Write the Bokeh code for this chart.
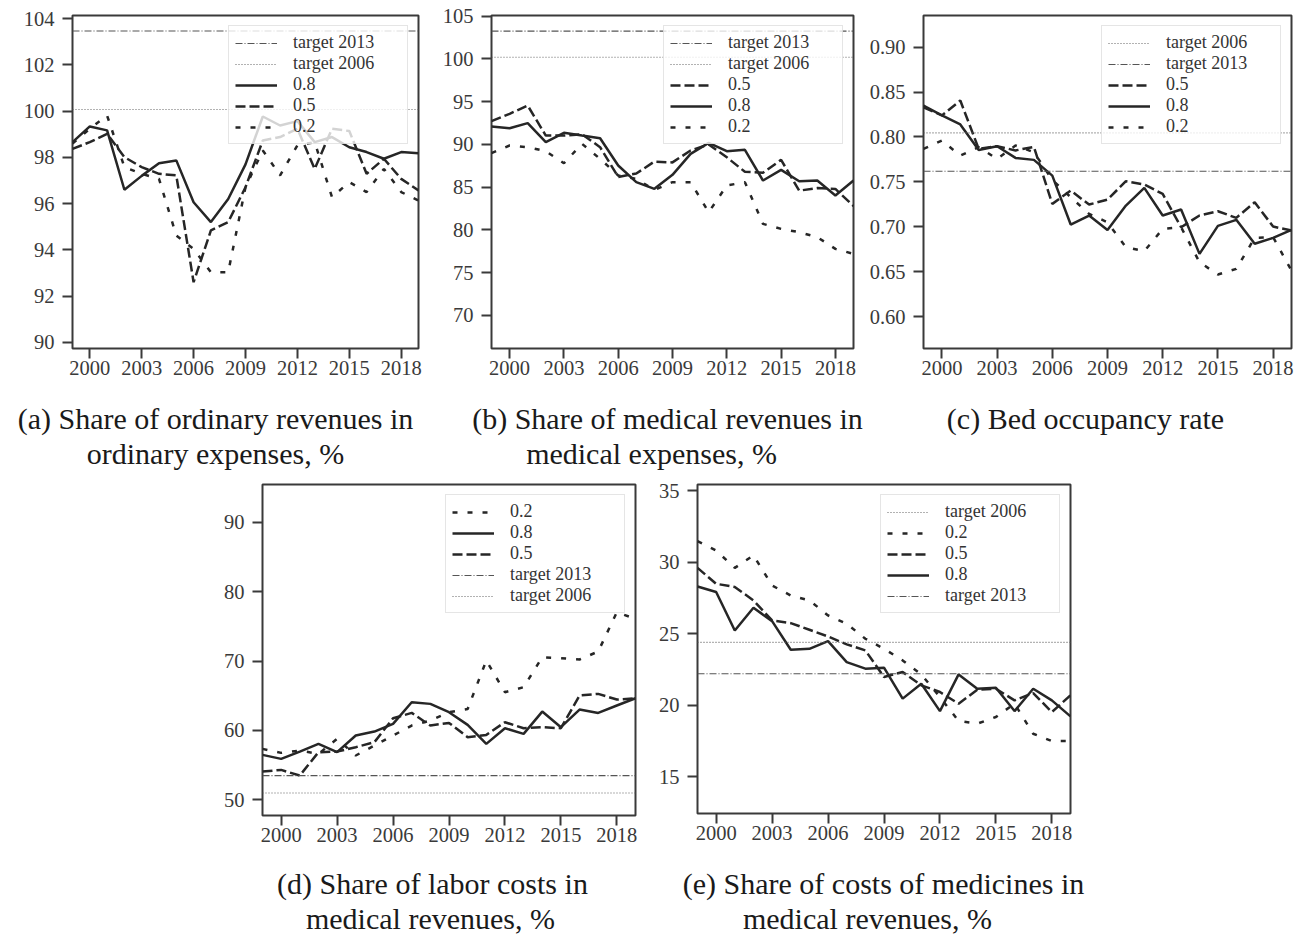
from bokeh.plotting import figure
from bokeh.layouts import column, row
from bokeh.models import (Legend, LegendItem, FixedTicker, NumeralTickFormatter, Spacer, Range1d)
from bokeh.core.properties import value
from bokeh.embed import file_html
from bokeh.resources import INLINE

# ---------------- data ----------------
years = list(range(1999, 2020))
x_ticks = [2000, 2003, 2006, 2009, 2012, 2015, 2018]

a_08 = [98.66, 99.34, 99.17, 96.60, 97.20, 97.75, 97.87, 96.06, 95.20, 96.20, 97.70, 99.77, 99.38, 99.57, 98.66, 98.88, 98.44, 98.23, 97.94, 98.23, 98.18]
a_05 = [98.37, 98.66, 99.02, 98.01, 97.58, 97.29, 97.22, 92.60, 94.84, 95.20, 96.71, 98.73, 98.88, 99.24, 97.50, 99.24, 99.14, 97.29, 97.94, 97.07, 96.57]
a_02 = [98.60, 99.24, 99.81, 97.58, 97.29, 97.07, 94.62, 94.04, 93.03, 93.03, 96.71, 98.30, 97.22, 98.52, 98.66, 96.28, 96.93, 96.50, 97.50, 96.50, 96.13]
a_target2013 = 103.47
a_target2006 = 100.07
a_yticks = [90, 92, 94, 96, 98, 100, 102, 104]

b_05 = [92.72, 93.58, 94.55, 91.04, 91.04, 91.20, 89.68, 86.20, 86.60, 88.00, 87.90, 89.30, 90.00, 88.50, 86.80, 86.70, 88.20, 84.60, 84.90, 84.80, 82.80]
b_08 = [92.10, 91.90, 92.49, 90.27, 91.36, 91.04, 90.73, 87.54, 85.59, 84.81, 86.45, 88.90, 90.19, 89.21, 89.37, 85.78, 87.03, 85.70, 85.78, 84.03, 85.78]
b_02 = [88.98, 89.88, 89.68, 89.21, 87.81, 90.07, 88.32, 86.37, 85.98, 84.69, 85.59, 85.59, 82.08, 85.20, 85.59, 80.71, 80.13, 79.74, 79.16, 77.79, 77.21]
b_target2013 = 103.25
b_target2006 = 100.2
b_yticks = [70, 75, 80, 85, 90, 95, 100, 105]

c_05 = [0.8330, 0.8240, 0.8406, 0.7868, 0.7897, 0.7850, 0.7890, 0.7255, 0.7403, 0.7247, 0.7303, 0.7507, 0.7470, 0.7366, 0.6995, 0.7125, 0.7173, 0.7099, 0.7273, 0.7002, 0.6958]
c_08 = [0.8350, 0.8240, 0.8139, 0.7856, 0.7897, 0.7767, 0.7745, 0.7570, 0.7025, 0.7125, 0.6965, 0.7236, 0.7433, 0.7125, 0.7192, 0.6698, 0.7010, 0.7077, 0.6810, 0.6876, 0.6965]
c_02 = [0.7868, 0.7960, 0.7793, 0.7886, 0.7756, 0.7905, 0.7830, 0.7522, 0.7329, 0.7144, 0.7050, 0.6772, 0.6728, 0.6976, 0.6995, 0.6605, 0.6468, 0.6531, 0.6876, 0.6884, 0.6512]
c_target2006 = 0.8046
c_target2013 = 0.7619
c_yticks = [0.60, 0.65, 0.70, 0.75, 0.80, 0.85, 0.90]

d_02 = [57.35, 56.77, 57.10, 56.63, 58.79, 56.39, 57.83, 59.27, 60.71, 61.43, 62.63, 63.10, 70.07, 65.51, 66.23, 70.55, 70.41, 70.22, 71.37, 77.03, 76.07]
d_08 = [56.48, 55.91, 56.96, 58.07, 56.87, 59.27, 59.84, 60.95, 64.07, 63.83, 62.63, 60.80, 58.07, 60.32, 59.51, 62.72, 60.47, 63.01, 62.53, 63.59, 64.64]
d_05 = [54.08, 54.32, 53.50, 56.87, 56.96, 57.59, 58.31, 61.76, 62.53, 60.71, 61.09, 59.03, 59.36, 61.19, 60.32, 60.47, 60.32, 65.03, 65.27, 64.45, 64.64]
d_target2013 = 53.5
d_target2006 = 51.0
d_yticks = [50, 60, 70, 80, 90]

e_02 = [31.47, 30.81, 29.60, 30.47, 28.37, 27.67, 27.33, 26.28, 25.70, 24.65, 23.95, 23.14, 22.16, 20.58, 18.91, 18.72, 19.19, 20.12, 18.02, 17.51, 17.51]
e_05 = [29.60, 28.49, 28.26, 27.33, 25.93, 25.74, 25.28, 24.81, 24.26, 23.84, 21.98, 22.33, 21.40, 20.93, 20.12, 21.09, 21.16, 20.35, 20.86, 19.53, 20.70]
e_08 = [28.30, 27.91, 25.23, 26.81, 25.88, 23.88, 23.95, 24.49, 23.02, 22.56, 22.63, 20.47, 21.51, 19.60, 22.16, 21.16, 21.23, 19.60, 21.16, 20.35, 19.23]
e_target2006 = 24.4
e_target2013 = 22.21
e_yticks = [15, 20, 25, 30, 35]

caption_row1 = ["(a) Share of ordinary revenues in", "ordinary expenses, %",
                "(b) Share of medical revenues in", "medical expenses, %",
                "(c) Bed occupancy rate"]
caption_row2 = ["(d) Share of labor costs in", "medical revenues, %",
                "(e) Share of costs of medicines in", "medical revenues, %"]

# ---------------- style ----------------
SERIF = "Liberation Serif"
INK = "#262626"
SPINE = "#3a3a3a"
STYLES = {
    "0.8": dict(line_color=INK, line_width=2.5, line_dash="solid"),
    "0.5": dict(line_color=INK, line_width=2.5, line_dash="10 4"),
    "0.2": dict(line_color=INK, line_width=2.5, line_dash="5 10"),
    "target 2013": dict(line_color="#555555", line_width=1.1, line_dash="7 2 1 2"),
    "target 2006": dict(line_color="#666666", line_width=1.1, line_dash="1 2"),
}


def panel(series, targets, order, y_range, yticks, frame, borders, fmt=None):
    fw, fh = frame
    bl, br, bt, bb = borders
    p = figure(frame_width=fw, frame_height=fh, x_range=(years[0], years[-1]), y_range=y_range,
               output_backend="svg", toolbar_location=None, title=None,
               min_border_left=bl, min_border_right=br, min_border_top=bt, min_border_bottom=bb,
               background_fill_color="white", border_fill_color="white")
    p.xgrid.visible = False
    p.ygrid.visible = False
    p.outline_line_color = SPINE
    p.outline_line_width = 2
    for ax in (p.xaxis[0], p.yaxis[0]):
        ax.axis_line_color = None
        ax.major_tick_line_color = SPINE
        ax.major_tick_line_width = 2
        ax.major_tick_out = 10
        ax.major_tick_in = 0
        ax.minor_tick_line_color = None
        ax.major_label_text_font = SERIF
        ax.major_label_text_font_size = "20.5px"
        ax.major_label_text_color = "#3a3a3a"
    p.xaxis[0].major_label_standoff = 2
    p.yaxis[0].major_label_standoff = 8
    p.xaxis[0].ticker = FixedTicker(ticks=x_ticks)
    p.yaxis[0].ticker = FixedTicker(ticks=yticks)
    if fmt:
        p.yaxis[0].formatter = NumeralTickFormatter(format=fmt)

    renderers = {}
    for name, vals in series.items():
        renderers[name] = p.line(years, vals, **STYLES[name])
    for name, val in targets.items():
        renderers[name] = p.line([years[0], years[-1]], [val, val], **STYLES[name])

    legend = Legend(items=[LegendItem(label=n, renderers=[renderers[n]]) for n in order],
                    location="top_right", margin=10, padding=6, spacing=0,
                    glyph_width=42, glyph_height=16, label_height=16, label_width=108,
                    label_standoff=16,
                    label_text_font=SERIF, label_text_font_size="18px", label_text_color="#333333",
                    background_fill_color="white", background_fill_alpha=0.8,
                    border_line_color="#cccccc", border_line_width=1)
    p.add_layout(legend)
    return p


def caption_strip(width, height, xs, ys, texts):
    c = figure(width=width, height=height, x_range=Range1d(0, width), y_range=Range1d(height, 0),
               output_backend="svg", toolbar_location=None, title=None,
               x_axis_location=None, y_axis_location=None, min_border=0,
               background_fill_color="white", border_fill_color="white")
    c.outline_line_color = None
    c.grid.visible = False
    c.text(x=xs, y=ys, text=texts, text_align="center", text_baseline="alphabetic",
           text_font=value(SERIF), text_font_size="30px", text_color="#1a1a1a")
    return c


pa = panel({"0.2": a_02, "0.5": a_05, "0.8": a_08},
           {"target 2013": a_target2013, "target 2006": a_target2006},
           ["target 2013", "target 2006", "0.8", "0.5", "0.2"],
           (89.73, 104.14), a_yticks, (346, 333), (72, 13, 15, 45))

pb = panel({"0.2": b_02, "0.8": b_08, "0.5": b_05},
           {"target 2013": b_target2013, "target 2006": b_target2006},
           ["target 2013", "target 2006", "0.5", "0.8", "0.2"],
           (66.14, 105.08), b_yticks, (362, 333), (60, 13, 15, 45))

pc = panel({"0.2": c_02, "0.8": c_08, "0.5": c_05},
           {"target 2006": c_target2006, "target 2013": c_target2013},
           ["target 2006", "target 2013", "0.5", "0.8", "0.2"],
           (0.5644, 0.9353), c_yticks, (368, 333), (55, 11, 15, 45), fmt="0.00")

pd = panel({"0.5": d_05, "0.8": d_08, "0.2": d_02},
           {"target 2013": d_target2013, "target 2006": d_target2006},
           ["0.2", "0.8", "0.5", "target 2013", "target 2006"],
           (47.75, 95.43), d_yticks, (373, 331), (50, 12, 10, 45))

pe = panel({"0.2": e_02, "0.5": e_05, "0.8": e_08},
           {"target 2006": e_target2006, "target 2013": e_target2013},
           ["target 2006", "0.2", "0.5", "0.8", "target 2013"],
           (12.45, 35.42), e_yticks, (373, 329), (50, 10, 12, 45))

cap1 = caption_strip(1300, 79, [215, 215, 667, 651, 1085], [25, 60, 25, 60, 25], caption_row1)
cap2 = caption_strip(1300, 78, [432, 430, 883, 867], [25, 60, 25, 60], caption_row2)

layout = column(row(pa, pb, pc), cap1, row(Spacer(width=212, height=10), pd, pe), cap2)

with open("out.html", "w") as f:
    f.write(file_html(layout, INLINE))
